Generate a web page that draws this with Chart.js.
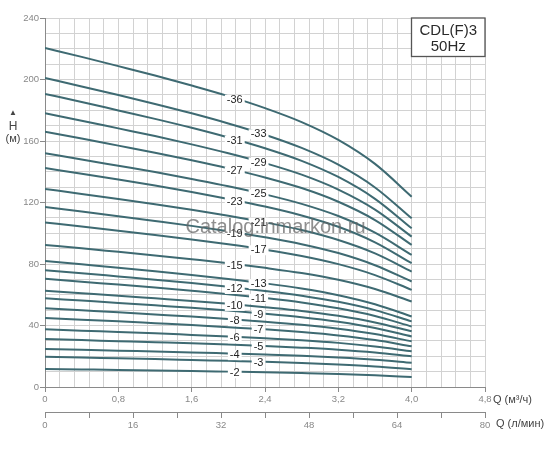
<!DOCTYPE html>
<html>
<head>
<meta charset="utf-8">
<script src="https://cdn.jsdelivr.net/npm/chart.js@4.4.0/dist/chart.umd.min.js"></script>
<style>
html,body{margin:0;padding:0;background:#fff;}
#wrap{width:550px;height:450px;}
</style>
</head>
<body>
<div id="wrap"><canvas id="c" width="550" height="450"></canvas></div>
<script>
// Flow points (m3/h) at which heads were read
const qPoints = [0, 0.4, 0.8, 1.2, 1.6, 2.0, 2.4, 2.8, 3.2, 3.6, 4.0];
// Head (m) of each stage count
const h36 = [220.5, 214.7, 208.7, 202.6, 196.1, 189.2, 181.4, 172.3, 160.7, 145.1, 123.8];
const h33 = [201.0, 195.5, 189.9, 184.1, 178.0, 171.4, 164.1, 155.5, 144.6, 129.8, 109.7];
const h31 = [190.6, 185.4, 179.9, 174.4, 168.6, 162.3, 155.3, 147.1, 136.6, 122.4, 103.2];
const h29 = [178.0, 173.2, 168.2, 163.2, 157.8, 152.0, 145.6, 138.1, 128.4, 115.4, 97.8];
const h27 = [166.0, 161.6, 157.0, 152.4, 147.5, 142.2, 136.3, 129.4, 120.5, 108.6, 92.4];
const h25 = [152.0, 148.0, 143.9, 139.8, 135.3, 130.6, 125.3, 119.1, 111.2, 100.4, 85.9];
const h23 = [142.4, 138.7, 134.9, 131.0, 126.8, 122.3, 117.4, 111.6, 104.2, 94.1, 80.5];
const h21 = [128.8, 125.6, 122.3, 118.9, 115.3, 111.4, 107.1, 102.1, 95.6, 86.9, 75.1];
const h19 = [117.0, 114.1, 111.1, 108.0, 104.8, 101.3, 97.4, 92.9, 87.1, 79.2, 68.6];
const h17 = [107.0, 104.4, 101.7, 98.9, 96.0, 92.8, 89.3, 85.2, 79.9, 72.8, 63.2];
const h15 = [92.4, 90.2, 87.9, 85.6, 83.1, 80.5, 77.5, 74.1, 69.7, 63.7, 55.6];
const h13 = [82.0, 79.8, 77.6, 75.3, 72.9, 70.3, 67.4, 64.0, 59.7, 53.8, 45.9];
const h12 = [76.0, 74.0, 71.9, 69.8, 67.6, 65.2, 62.5, 59.4, 55.4, 50.0, 42.7];
const h11 = [70.4, 68.5, 66.6, 64.7, 62.6, 60.4, 57.9, 55.0, 51.2, 46.2, 39.4];
const h10 = [62.6, 61.0, 59.4, 57.7, 56.0, 54.1, 51.9, 49.5, 46.3, 42.0, 36.2];
const h9  = [57.7, 56.2, 54.7, 53.1, 51.5, 49.7, 47.7, 45.4, 42.4, 38.4, 32.9];
const h8  = [51.2, 49.9, 48.6, 47.2, 45.8, 44.2, 42.5, 40.5, 37.9, 34.4, 29.7];
const h7  = [44.9, 43.8, 42.7, 41.5, 40.3, 38.9, 37.5, 35.7, 33.5, 30.5, 26.5];
const h6  = [37.5, 36.6, 35.8, 34.9, 33.9, 32.9, 31.7, 30.4, 28.7, 26.3, 23.2];
const h5  = [31.2, 30.5, 29.8, 29.1, 28.4, 27.6, 26.7, 25.6, 24.3, 22.5, 20.0];
const h4  = [24.7, 24.2, 23.6, 23.1, 22.5, 21.8, 21.1, 20.3, 19.2, 17.8, 15.8];
const h3  = [19.7, 19.2, 18.7, 18.2, 17.6, 17.0, 16.4, 15.6, 14.6, 13.3, 11.5];
const h2  = [11.7, 11.4, 11.1, 10.7, 10.4, 10.0, 9.6, 9.1, 8.5, 7.6, 6.5];

const stages = [36, 33, 31, 29, 27, 25, 23, 21, 19, 17, 15, 13, 12, 11, 10, 9, 8, 7, 6, 5, 4, 3, 2];
const heads = [h36, h33, h31, h29, h27, h25, h23, h21, h19, h17, h15, h13, h12, h11, h10, h9, h8, h7, h6, h5, h4, h3, h2];
const curveLabels = ['-36','-33','-31','-29','-27','-25','-23','-21','-19','-17','-15','-13','-12','-11','-10','-9','-8','-7','-6','-5','-4','-3','-2'];
// labels placed further right on these curves
const shiftedLabels = [33, 29, 25, 21, 17, 13, 11, 9, 7, 5, 3];

const qTickLabels = ['0', '0,8', '1,6', '2,4', '3,2', '4,0', '4,8'];
const hTickLabels = ['0', '40', '80', '120', '160', '200', '240'];
const lminTickLabels = ['0', '16', '32', '48', '64', '80'];

const titleBox = ['CDL(F)3', '50Hz'];
const qTitle = 'Q (м³/ч)';
const lminTitle = 'Q (л/мин)';
const hTitle = ['▲', 'H', '(м)'];
const watermark = 'Catalog.inmarkon.ru';

const FONT = "'Liberation Sans', Arial, sans-serif";
const LINE = '#3e6a72';
const AXIS = '#8a8a8a';
const GRID = '#d2d2d2';
const TICKTXT = '#888888';

const datasets = heads.map((h, i) => ({
  label: curveLabels[i],
  data: qPoints.map((q, j) => ({x: q, y: h[j]})),
  borderColor: LINE,
  borderWidth: 2,
  pointRadius: 0,
  fill: false,
  cubicInterpolationMode: 'monotone',
  xAxisID: 'x',
  yAxisID: 'y'
}));

function interp(h, q) {
  for (let j = 0; j < qPoints.length - 1; j++) {
    if (q >= qPoints[j] && q <= qPoints[j + 1]) {
      const t = (q - qPoints[j]) / (qPoints[j + 1] - qPoints[j]);
      return h[j] + t * (h[j + 1] - h[j]);
    }
  }
  return h[h.length - 1];
}

const decor = {
  id: 'decor',
  afterDatasetsDraw(chart) {
    const ctx = chart.ctx;
    const xs = chart.scales.x, ys = chart.scales.y;
    ctx.save();
    ctx.font = '11px ' + FONT;
    ctx.textAlign = 'center';
    ctx.textBaseline = 'middle';
    stages.forEach((s, i) => {
      const q = shiftedLabels.includes(s) ? 2.33 : 2.07;
      const px = xs.getPixelForValue(q);
      const py = ys.getPixelForValue(interp(heads[i], q)) + 1.5;
      const w = ctx.measureText(curveLabels[i]).width;
      ctx.fillStyle = '#ffffff';
      ctx.fillRect(px - w / 2 - 2, py - 5, w + 4, 10);
      ctx.fillStyle = '#1e1e1e';
      ctx.fillText(curveLabels[i], px, py);
    });
    // watermark
    ctx.font = '20px ' + FONT;
    ctx.fillStyle = 'rgba(100,100,100,0.72)';
    ctx.fillText(watermark, (xs.getPixelForValue(1.53) + xs.getPixelForValue(3.5)) / 2, ys.getPixelForValue(104));
    ctx.restore();
  },
  afterDraw(chart) {
    const ctx = chart.ctx;
    const a = chart.chartArea;
    const x2 = chart.scales.x2;
    ctx.save();
    // title box
    const bx = a.right - 73.5, by = a.top, bw = 73.5, bh = 38.5;
    ctx.fillStyle = '#fff';
    ctx.fillRect(bx, by, bw, bh);
    ctx.strokeStyle = '#555';
    ctx.lineWidth = 1.3;
    ctx.strokeRect(bx, by, bw, bh);
    ctx.fillStyle = '#2a2a2a';
    ctx.font = '15px ' + FONT;
    ctx.textAlign = 'center';
    ctx.textBaseline = 'middle';
    ctx.fillText(titleBox[0], bx + bw / 2, by + 13);
    ctx.fillText(titleBox[1], bx + bw / 2, by + 29);
    // axis titles
    ctx.fillStyle = '#444';
    ctx.font = '11px ' + FONT;
    ctx.textAlign = 'left';
    ctx.fillText(qTitle, a.right + 8, a.bottom + 13);
    ctx.fillText(lminTitle, a.right + 11, x2.top + 12);
    ctx.textAlign = 'center';
    ctx.font = '8px ' + FONT;
    ctx.fillText(hTitle[0], 13, 113);
    ctx.font = '12px ' + FONT;
    ctx.fillText(hTitle[1], 13, 127);
    ctx.font = '11px ' + FONT;
    ctx.fillText(hTitle[2], 13, 139);
    ctx.restore();
  }
};

new Chart(document.getElementById('c'), {
  type: 'line',
  data: {datasets},
  options: {
    responsive: false,
    devicePixelRatio: 1,
    animation: false,
    events: [],
    layout: {padding: {top: 18, right: 65, left: 0, bottom: 0}},
    plugins: {legend: {display: false}, tooltip: {enabled: false}},
    scales: {
      x: {
        type: 'linear', position: 'bottom', min: 0, max: 4.8,
        afterFit(s) { s.height = 25; },
        grid: {
          color: GRID, lineWidth: 1, tickLength: 5,
          tickColor: c => (c.index % 5 === 0 ? AXIS : 'rgba(0,0,0,0)')
        },
        border: {display: true, color: AXIS, width: 1},
        ticks: {
          stepSize: 0.16, autoSkip: false, maxRotation: 0, padding: 2,
          color: TICKTXT, font: {family: FONT, size: 9.5},
          callback: (v, i) => (i % 5 === 0 ? qTickLabels[i / 5] : '')
        }
      },
      x2: {
        type: 'linear', position: 'bottom', min: 0, max: 80,
        afterFit(s) { s.height = 38; },
        grid: {drawOnChartArea: false, color: AXIS, tickLength: 6},
        border: {display: true, color: AXIS, width: 1},
        ticks: {
          stepSize: 8, autoSkip: false, maxRotation: 0, padding: 2,
          color: TICKTXT, font: {family: FONT, size: 9.5},
          callback: (v, i) => (i % 2 === 0 ? lminTickLabels[i / 2] : '')
        }
      },
      y: {
        type: 'linear', position: 'left', min: 0, max: 240,
        afterFit(s) { s.width = 45; },
        grid: {
          color: GRID, lineWidth: 1, tickLength: 5,
          tickColor: c => (c.index % 4 === 0 ? AXIS : 'rgba(0,0,0,0)')
        },
        border: {display: true, color: AXIS, width: 1},
        ticks: {
          stepSize: 10, autoSkip: false, padding: 1,
          color: TICKTXT, font: {family: FONT, size: 9.5},
          callback: (v, i) => (i % 4 === 0 ? hTickLabels[i / 4] : '')
        }
      }
    }
  },
  plugins: [decor]
});
</script>
</body>
</html>
